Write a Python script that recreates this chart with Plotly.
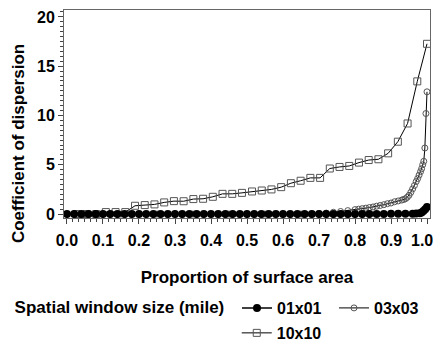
import plotly.graph_objects as go

# ---- data ----
p01 = [0.00,0.02,0.04,0.06,0.08,0.10,0.12,0.14,0.16,0.18,0.20,0.22,0.24,0.26,0.28,0.30,
       0.32,0.34,0.36,0.38,0.40,0.42,0.44,0.46,0.48,0.50,0.52,0.54,0.56,0.58,0.60,0.62,
       0.64,0.66,0.68,0.70,0.72,0.74,0.76,0.78,0.80,0.82,0.84,0.86,0.88,0.90,0.92,0.94,
       0.96,0.97,0.98,0.985,0.99,0.995,1.00]
v01 = [0.00,0.00,0.00,0.00,0.00,0.00,0.00,0.00,0.00,0.00,0.00,0.00,0.00,0.00,0.00,0.00,
       0.00,0.00,0.00,0.00,0.00,0.00,0.00,0.00,0.00,0.00,0.00,0.00,0.00,0.00,0.00,0.00,
       0.00,0.00,0.00,0.00,0.00,0.00,0.00,0.00,0.00,0.00,0.00,0.01,0.01,0.02,0.02,0.03,
       0.04,0.05,0.08,0.15,0.30,0.50,0.72]

p03 = [0.00,0.05,0.10,0.15,0.20,0.25,0.30,0.35,0.40,0.45,0.50,0.55,0.60,0.65,
       0.68,0.70,0.72,0.74,0.76,0.78,0.80,
       0.81,0.82,0.83,0.84,0.85,0.86,0.87,0.88,0.89,0.90,0.91,0.92,0.93,
       0.935,0.94,0.945,0.95,0.955,0.96,0.965,0.97,
       0.974,0.978,0.982,0.985,0.988,0.991,0.994,0.997,1.00]
v03 = [0.00,0.00,0.00,0.00,0.00,0.00,0.00,0.00,0.00,0.00,0.00,0.00,0.00,0.00,
       0.02,0.05,0.10,0.18,0.26,0.35,0.45,
       0.50,0.55,0.60,0.66,0.72,0.80,0.87,0.95,1.05,1.12,1.25,1.33,1.42,
       1.48,1.55,1.70,1.90,2.20,2.55,2.90,3.30,
       3.60,3.95,4.30,4.60,5.00,5.35,6.70,10.20,12.40]

p10 = [0.027,0.054,0.081,0.108,0.135,0.162,0.189,0.216,0.243,0.270,0.297,0.324,0.351,
       0.378,0.405,0.432,0.459,0.486,0.514,0.541,0.568,0.595,0.622,0.649,0.676,0.703,
       0.730,0.757,0.784,0.811,0.838,0.865,0.892,0.919,0.946,0.973,1.000]
v10 = [0.00,0.00,0.00,0.20,0.20,0.20,0.84,0.91,0.98,1.18,1.31,1.30,1.52,
       1.55,1.75,2.05,2.05,2.15,2.29,2.39,2.50,2.73,3.13,3.38,3.67,3.67,
       4.62,4.78,4.88,5.22,5.48,5.56,6.16,7.34,9.19,13.46,17.27]

names = ["01x01", "03x03", "10x10"]
x_ticks = [0.0,0.1,0.2,0.3,0.4,0.5,0.6,0.7,0.8,0.9,1.0]
x_labels = ["0.0","0.1","0.2","0.3","0.4","0.5","0.6","0.7","0.8","0.9","1.0"]
y_ticks = [0,5,10,15,20]

FONT = "Liberation Sans, Arial, sans-serif"

fig = go.Figure()
fig.add_trace(go.Scatter(
    x=p03, y=v03, name=names[1], mode="lines+markers", legend="legend", legendrank=2,
    line=dict(color="black", width=1),
    marker=dict(symbol="circle-open", size=6, color="#555555", line=dict(width=1))))
fig.add_trace(go.Scatter(
    x=p10, y=v10, name=names[2], mode="lines+markers", legend="legend2",
    line=dict(color="black", width=1),
    marker=dict(symbol="square-open", size=7, color="#555555", line=dict(width=1))))
fig.add_trace(go.Scatter(
    x=p01, y=v01, name=names[0], mode="lines+markers", legend="legend", legendrank=1,
    line=dict(color="black", width=1.5),
    marker=dict(symbol="circle", size=8, color="black")))

tick_font = dict(family=FONT, size=16, color="black", weight="bold")
axis_common = dict(
    showline=True, linecolor="#666666", linewidth=1, mirror=True,
    ticks="outside", ticklen=5, tickcolor="#444444", tickwidth=1,
    showgrid=False, zeroline=False, tickfont=tick_font,
)

# last label drawn as an annotation nudged inward so it stays inside the page
fig.update_xaxes(
    range=[-0.0083, 1.0083], tickvals=x_ticks, ticktext=x_labels[:-1] + [""],
    ticklabelstandoff=3,
    minor=dict(dtick=0.1/6, tick0=0, ticks="outside", ticklen=3, tickcolor="#444444"),
    title=dict(text="Proportion of surface area", standoff=22,
               font=dict(family=FONT, size=17, color="black", weight="bold")),
    **axis_common)
fig.update_yaxes(
    range=[-0.4, 20.7], tickvals=y_ticks,
    minor=dict(dtick=0.5, tick0=0, ticks="outside", ticklen=3, tickcolor="#444444"),
    **axis_common)

legend_font = dict(family=FONT, size=16, color="black", weight="bold")
fig.update_layout(
    width=436, height=342,
    margin=dict(l=64, r=6, t=10, b=123.5, autoexpand=False),
    paper_bgcolor="white", plot_bgcolor="white",
    legend=dict(orientation="h", x=-0.1405, xanchor="left", y=-0.351, yanchor="top",
                title=dict(text="Spatial window size (mile)\u00a0", side="left",
                           font=dict(family=FONT, size=17, color="black", weight="bold")),
                font=legend_font, entrywidth=52, itemwidth=30,
                bgcolor="rgba(0,0,0,0)"),
    legend2=dict(orientation="h", x=0.472, xanchor="left", y=-0.471, yanchor="top",
                 font=legend_font, itemwidth=30, bgcolor="rgba(0,0,0,0)"),
    showlegend=True,
    annotations=[
        dict(text="Coefficient of dispersion", textangle=-90,
             xref="paper", yref="paper", x=-0.1257, y=0.36,
             xanchor="center", yanchor="middle", showarrow=False,
             font=dict(family=FONT, size=17, color="black", weight="bold")),
        dict(text=x_labels[-1], xref="x", yref="paper", x=x_ticks[-1], y=-0.108,
             xanchor="center", yanchor="middle", xshift=-5, showarrow=False,
             font=tick_font),
    ],
)

fig.write_html("out.html")
